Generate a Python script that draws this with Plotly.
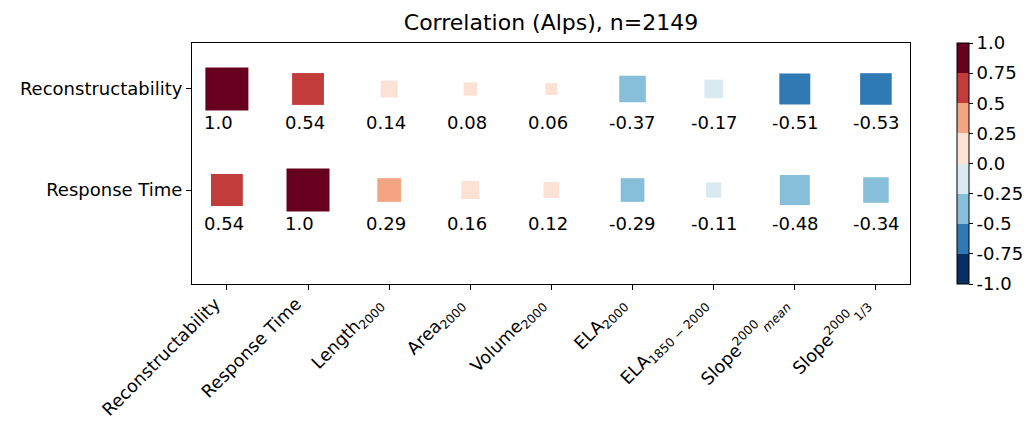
import plotly.graph_objects as go
import numpy as np

columns = ["Reconstructability", "Response Time", "Length<sub>2000</sub>", "Area<sub>2000</sub>",
           "Volume<sub>2000</sub>", "ELA<sub>2000</sub>", "ELA<sub>1850 − 2000</sub>",
           "Slope<sup>2000</sup><sub><i>mean</i></sub>", "Slope<sup>2000</sup><sub>1/3</sub>"]
rows = ["Reconstructability", "Response Time"]
recon_vals = [1.0, 0.54, 0.14, 0.08, 0.06, -0.37, -0.17, -0.51, -0.53]
resp_vals = [0.54, 1.0, 0.29, 0.16, 0.12, -0.29, -0.11, -0.48, -0.34]
cbar_ticks = [-1.0, -0.75, -0.5, -0.25, 0.0, 0.25, 0.5, 0.75, 1.0]
cbar_labels = ["-1.0", "-0.75", "-0.5", "-0.25", "0.0", "0.25", "0.5", "0.75", "1.0"]
bin_colors = ["#053061", "#2f79b5", "#87beda", "#dbe9f1", "#fce2d4", "#f3a481", "#c33c3c", "#67001f"]

# discrete colorscale
cs = []
n = len(bin_colors)
for i, c in enumerate(bin_colors):
    cs.append([i / n, c])
    cs.append([(i + 1) / n, c])

fig = go.Figure()
row_y = {rows[0]: 1, rows[1]: 0}
all_x, all_y, all_v = [], [], []
for r, vals in zip(rows, [recon_vals, resp_vals]):
    for i, v in enumerate(vals):
        all_x.append(i)
        all_y.append(row_y[r])
        all_v.append(v)
all_v = np.array(all_v)
sizes = np.sqrt(1814 * np.abs(all_v) + 35)

fig.add_trace(go.Scatter(
    x=all_x, y=all_y, mode="markers",
    marker=dict(symbol="square", size=sizes, color=all_v, colorscale=cs, cmin=-1, cmax=1,
                opacity=1, line=dict(width=0),
                colorbar=dict(x=(957 - 192) / 718, xanchor="left", xpad=0, ypad=0,
                              y=0.5, yanchor="middle", len=1.0,
                              lenmode="fraction", thickness=12, outlinewidth=1, outlinecolor="black",
                              tickvals=cbar_ticks, ticktext=cbar_labels, ticks="outside",
                              ticklen=4, tickcolor="black",
                              tickfont=dict(size=18, color="black", family="DejaVu Sans"))),
    showlegend=False, hoverinfo="skip"))

for xx, yy, v in zip(all_x, all_y, all_v):
    fig.add_annotation(x=xx - 0.31, y=yy - 0.33, xref="x", yref="y", text=str(round(float(v), 2)),
                       showarrow=False, xanchor="left", yanchor="middle",
                       font=dict(size=18, color="black", family="DejaVu Sans"))

fig.update_layout(
    width=1029, height=424,
    margin=dict(l=192, r=119, t=43, b=140, autoexpand=False),
    plot_bgcolor="white", paper_bgcolor="white",
    font=dict(family="DejaVu Sans", color="black", size=18),
    title=dict(text="Correlation (Alps), n=2149", x=0.5, xref="paper", xanchor="center",
               y=1 - 22 / 424, yref="container", yanchor="middle",
               font=dict(size=22, color="black", family="DejaVu Sans")),
)
fig.update_xaxes(range=[-0.43, 8.42], tickvals=list(range(len(columns))),
                 ticktext=[c + "&nbsp;&nbsp;&nbsp;" for c in columns],
                 tickangle=-45, showgrid=False, zeroline=False, showline=True, linecolor="black",
                 linewidth=1, mirror=True, ticks="outside", ticklen=5, tickcolor="black",
                 tickfont=dict(size=17.5), automargin=False, ticklabelstandoff=-15)
fig.update_yaxes(range=[-0.93, 1.455], tickvals=[1, 0], ticktext=rows,
                 showgrid=False, zeroline=False, showline=True, linecolor="black",
                 linewidth=1, mirror=True, ticks="outside", ticklen=5, tickcolor="black",
                 tickfont=dict(size=18), automargin=False)

fig.write_html("out.html", config={"displayModeBar": False},
               post_script="document.body.style.margin='0';")
